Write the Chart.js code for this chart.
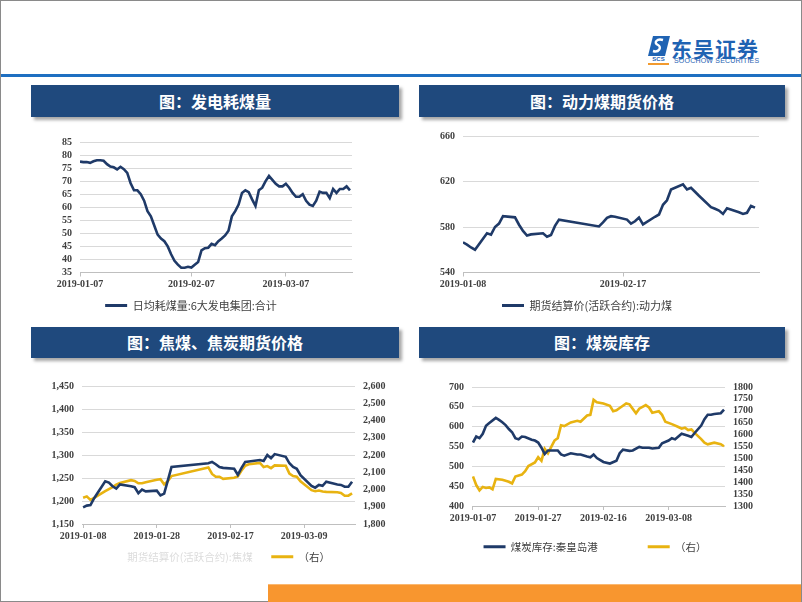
<!DOCTYPE html>
<html>
<head>
<meta charset="utf-8">
<script src="https://cdn.jsdelivr.net/npm/chart.js@4.4.0/dist/chart.umd.min.js"></script>
<style>
  body { margin: 0; background: #fff; width: 802px; height: 602px; position: relative; overflow: hidden; }
  .frame { position: absolute; left: 0; top: 0; width: 800px; height: 600px; border: 1px solid #8a8a8a; }
  .topline { position: absolute; left: 1px; top: 74px; width: 800px; height: 3px; background: #1e6fc1; }
  .bar { position: absolute; height: 32px; background: #1f497d; color: #fff; text-align: center;
         font: bold 16px "Noto Sans CJK SC", sans-serif; line-height: 32px; box-shadow: 3px 3px 3px rgba(0,0,0,0.35); }
  .orange { position: absolute; left: 268px; top: 584px; width: 533px; height: 17px; background: #f8962f; border-top: 1px solid #fbb870; }
  canvas { position: absolute; }
  .logo-cn { position: absolute; left: 671px; top: 33px; font: bold 21px "Noto Sans CJK SC", sans-serif; color: #1f63b3; letter-spacing: 1px; }
  .logo-en { position: absolute; left: 674px; top: 57px; font: 7px "Liberation Sans", sans-serif; color: #1f63b3; letter-spacing: 0.2px; }
  .logo-scs { position: absolute; left: 648px; top: 56px; width: 21px; font: bold 6px "Liberation Sans", sans-serif; color: #1f63b3; text-align: center; border-bottom: 2px solid #f29a2e; line-height: 7px; }
</style>
</head>
<body>
<div class="frame"></div>
<svg style="position:absolute;left:648px;top:36px" width="22" height="20" viewBox="0 0 22 20">
  <path d="M5 0 H22 L17 20 H0 Z" fill="#1f63b3"/>
  <path d="M15 4 C9 2 5 7 10 9 C14 11 11 17 5 15" stroke="#fff" stroke-width="2.4" fill="none"/>
</svg>
<div class="logo-scs">SCS</div>
<div class="logo-cn">东吴证券</div>
<div class="logo-en">SOOCHOW SECURITIES</div>
<div class="topline"></div>

<div class="bar" style="left:31px;top:85px;width:368px;">图：发电耗煤量</div>
<div class="bar" style="left:419px;top:85px;width:366px;">图：动力煤期货价格</div>
<div class="bar" style="left:31px;top:327px;width:368px;height:31px;line-height:31px;">图：焦煤、焦炭期货价格</div>
<div class="bar" style="left:419px;top:327px;width:366px;height:31px;line-height:31px;">图：煤炭库存</div>

<canvas id="c1" width="340" height="193" style="left:30px;top:128px"></canvas>
<canvas id="c2" width="370" height="199" style="left:415px;top:122px"></canvas>
<canvas id="c3" width="370" height="200" style="left:30px;top:372px"></canvas>
<canvas id="c4" width="350" height="189" style="left:420px;top:373px"></canvas>

<div class="orange"></div>

<script>
// chart 1: daily coal burn, 6 big power groups
const burnName = '日均耗煤量:6大发电集团:合计'
const burn = [77.5, 77.3, 77.3, 77.0, 77.6, 78.0, 78.0, 77.8, 76.5, 75.6,
    75.3, 74.5, 75.5, 74.6, 73.2, 69.2, 66.5, 66.5, 65.0, 62.5,
    58.5, 56.5, 53.0, 49.5, 48.0, 47.0, 45.0, 42.0, 39.5, 38.0,
    36.8, 36.8, 37.2, 36.9, 38.0, 39.0, 43.5, 44.3, 44.5, 46.0,
    45.5, 47.0, 48.0, 49.2, 51.0, 56.5, 58.5, 61.0, 65.5, 66.5,
    65.8, 63.0, 60.5, 66.5, 67.5, 70.0, 72.0, 70.5, 69.0, 68.0,
    68.0, 69.0, 67.5, 65.5, 64.0, 64.0, 65.0, 62.5, 61.0, 60.5,
    62.5, 66.0, 65.5, 65.5, 63.5, 67.0, 65.5, 67.0, 67.0, 68.0, 66.5]
const burnTickPos = [0, 33, 61]
const burnTickText = ['2019-01-07', '2019-02-07', '2019-03-07']

// chart 2: thermal coal futures (days since 2019-01-08)
const thermalName = '期货结算价(活跃合约):动力煤'
const thermalDays = [0, 1, 2, 3, 6, 7, 8, 9, 10, 13, 14, 15, 16, 17, 20, 21, 22, 23, 24,
    34, 35, 36, 37, 38, 41, 42, 43, 44, 45, 48, 49, 50, 51, 52, 55, 56, 57, 58, 59,
    62, 63, 64, 65, 66, 69, 70, 71, 72, 73]
const thermal = [566.5, 564.5, 562, 560, 574.5, 573.3, 580, 583, 589.5, 588.5, 582, 576.5, 572.5, 573.5, 574.5, 571.5, 573, 581, 586.5,
    580.5, 584, 588, 589.5, 589, 586.5, 583, 585, 588.3, 582.3, 589, 591, 599.5, 603.5, 613, 617.5, 613, 614.5, 611, 607.5,
    597.5, 596, 594.5, 591.5, 596.5, 593, 591.5, 592.5, 598.5, 597]
const thermalTickPos = [0, 40]
const thermalTickText = ['2019-01-08', '2019-02-17']

// chart 3: coking coal (left) and coke (right) futures (days since 2019-01-08)
const cokingName = '期货结算价(活跃合约):焦煤'
const cokeName = '（右）'
const cokeDays = [0, 1, 2, 3, 6, 7, 8, 9, 10, 13, 14, 15, 16, 17, 20, 21, 22, 23, 24,
    34, 35, 36, 37, 38, 41, 42, 43, 44, 45, 48, 49, 50, 51, 52, 55, 56, 57, 58, 59,
    62, 63, 64, 65, 66, 69, 70, 71, 72, 73]
const coking = [1186, 1190, 1191, 1206, 1243, 1240, 1232, 1227, 1236, 1232, 1230, 1217, 1225, 1221, 1222.5, 1212, 1216, 1245, 1274,
    1282, 1285, 1280, 1274, 1272, 1270, 1257, 1272, 1285, 1286, 1289, 1287, 1300, 1293, 1302, 1296, 1282, 1274, 1270, 1256,
    1233, 1229, 1235, 1233, 1242, 1236, 1235, 1231, 1231, 1242]
const coke = [1952, 1960, 1940, 1952, 1990, 2002, 2014, 2028, 2038, 2054, 2050, 2036, 2036, 2042, 2056, 2060, 2030, 2048, 2078,
    2128, 2090, 2074, 2074, 2062, 2068, 2076, 2110, 2138, 2146, 2154, 2130, 2136, 2124, 2140, 2138, 2092, 2078, 2074, 2048,
    1996, 1990, 1994, 1988, 1986, 1984, 1980, 1964, 1964, 1978]
const cokeTickPos = [0, 20, 40, 60]
const cokeTickText = ['2019-01-08', '2019-01-28', '2019-02-17', '2019-03-09']

// chart 4: Qinhuangdao port stock (left) and right-axis series (days since 2019-01-07)
const stockName = '煤炭库存:秦皇岛港'
const rightName = '（右）'
const stockDays = [0, 1, 2, 3, 4, 5, 7, 8, 9, 10, 11, 12, 13, 14, 15, 16, 18, 19, 20, 21, 22, 23, 26, 27, 28, 30,
    32, 33, 35, 36, 37, 38, 40, 42, 44, 45, 46, 48, 49, 51, 52, 54, 55, 57, 58, 60, 61, 62, 64, 66, 67, 68,
    70, 71, 72, 73, 74, 76, 77]
const stock = [560, 575, 571, 582, 602, 609, 622, 617, 611, 604, 594, 586, 571, 568, 575, 574, 567, 565, 560, 547, 531, 540, 540, 530, 527, 533,
    530, 530, 525, 523, 530, 521, 511, 507, 514, 533, 542, 539, 540, 549, 547, 547, 545, 547, 558, 565, 571, 568, 582, 577, 574, 584,
    603, 619, 630, 630, 632, 634, 643]
const rightDays = [0, 1, 2, 3, 4, 5, 6, 7, 9, 11, 12, 13, 15, 16, 17, 19, 20, 21, 22, 23, 25, 26, 27, 28, 30,
    32, 33, 35, 36, 37, 38, 40, 42, 43, 44, 45, 47, 48, 50, 51, 53, 54, 55, 57, 58, 59, 61, 63, 64, 65, 66, 67, 68,
    70, 71, 72, 74, 76, 77]
const rightVals = [1424, 1388, 1366, 1380, 1376, 1378, 1370, 1414, 1410, 1402, 1395, 1424, 1432, 1446, 1468, 1483, 1505, 1490, 1541, 1522, 1575, 1585, 1639, 1636, 1651,
    1658, 1654, 1680, 1683, 1746, 1736, 1731, 1721, 1698, 1702, 1712, 1731, 1727, 1690, 1709, 1724, 1714, 1692, 1698, 1683, 1654, 1644, 1632, 1625, 1629, 1619, 1622, 1607,
    1581, 1566, 1559, 1566, 1560, 1551]
const stockTickPos = [0, 20, 40, 60]
const stockTickText = ['2019-01-07', '2019-01-27', '2019-02-16', '2019-03-08']

const NAVY = '#1f3a68'
const GOLD = '#e8b311'
const tickFont = { family: '"Liberation Serif"', size: 10, weight: 'bold' }
const tickColor = '#404040'

function legendOpts(size, texts, faint) {
    return {
        position: 'bottom',
        labels: {
            boxWidth: 22,
            boxHeight: 3,
            padding: 8,
            color: '#404040',
            font: { family: '"Noto Sans CJK SC"', size: size },
            generateLabels: chart => chart.data.datasets.map((ds, i) => ({
                text: texts ? texts[i] : ds.label,
                fillStyle: faint && i === 0 ? 'transparent' : ds.borderColor,
                strokeStyle: 'transparent',
                lineWidth: 0,
                fontColor: faint && i === 0 ? '#dcdcdc' : '#404040',
                datasetIndex: i
            }))
        }
    }
}

function xAxis(min, max, pos, text, h) {
    return {
        type: 'linear',
        min: min,
        max: max,
        afterBuildTicks: s => { s.ticks = pos.map(v => ({ value: v })) },
        afterFit: s => { s.height = h },
        ticks: {
            autoSkip: false,
            maxRotation: 0,
            padding: 2,
            font: tickFont,
            color: tickColor,
            callback: (v, i) => text[i]
        },
        grid: { drawOnChartArea: false, tickLength: 4, color: '#bfbfbf' },
        border: { color: '#bfbfbf' }
    }
}

function yAxis(min, max, step, w, side, grid, fmt) {
    return {
        position: side,
        min: min,
        max: max,
        afterFit: s => { s.width = w },
        ticks: {
            stepSize: step,
            autoSkip: false,
            padding: 8,
            font: tickFont,
            color: tickColor,
            callback: v => fmt ? v.toLocaleString('en-US') : v
        },
        grid: { color: '#d9d9d9', drawTicks: false, drawOnChartArea: grid },
        border: { display: false }
    }
}

function line(label, pts, color, axis) {
    return {
        label: label,
        data: pts,
        borderColor: color,
        backgroundColor: color,
        borderWidth: 2.6,
        pointRadius: 0,
        tension: 0,
        yAxisID: axis
    }
}

Chart.defaults.animation = false
Chart.defaults.responsive = false
Chart.defaults.plugins.tooltip.enabled = false

new Chart(document.getElementById('c1'), {
    type: 'line',
    data: { datasets: [line(burnName, burn.map((v, i) => ({ x: i, y: v })), NAVY, 'y')] },
    options: {
        layout: { padding: { top: 10, right: 18, bottom: 0, left: 0 } },
        plugins: { legend: legendOpts(11) },
        scales: {
            x: xAxis(0, 80.6, burnTickPos, burnTickText, 19.5),
            y: yAxis(35, 85, 5, 50, 'left', true, false)
        }
    }
})

new Chart(document.getElementById('c2'), {
    type: 'line',
    data: { datasets: [line(thermalName, thermalDays.map((d, i) => ({ x: d, y: thermal[i] })), NAVY, 'y')] },
    options: {
        layout: { padding: { top: 9, right: 26, bottom: 0, left: 0 } },
        plugins: { legend: legendOpts(11) },
        scales: {
            x: xAxis(0, 74, thermalTickPos, thermalTickText, 19.5),
            y: yAxis(540, 660, 40, 48, 'left', true, false)
        }
    }
})

new Chart(document.getElementById('c3'), {
    type: 'line',
    data: {
        datasets: [
            line(cokingName, cokeDays.map((d, i) => ({ x: d, y: coking[i] })), NAVY, 'y'),
            line(cokeName, cokeDays.map((d, i) => ({ x: d, y: coke[i] })), GOLD, 'y1')
        ]
    },
    options: {
        layout: { padding: { top: 10, right: 0, bottom: 0, left: 0 } },
        plugins: { legend: legendOpts(10.5, [cokingName + '\u3000', cokeName], true) },
        scales: {
            x: xAxis(-0.3, 73.8, cokeTickPos, cokeTickText, 19.5),
            y: yAxis(1150, 1450, 50, 52, 'left', true, true),
            y1: yAxis(1800, 2600, 100, 45, 'right', false, true)
        }
    }
})

new Chart(document.getElementById('c4'), {
    type: 'line',
    data: {
        datasets: [
            line(stockName, stockDays.map((d, i) => ({ x: d, y: stock[i] })), NAVY, 'y'),
            line(rightName, rightDays.map((d, i) => ({ x: d, y: rightVals[i] })), GOLD, 'y1')
        ]
    },
    options: {
        layout: { padding: { top: 10, right: 0, bottom: 0, left: 0 } },
        plugins: { legend: legendOpts(10.5, [stockName + '\u3000\u3000\u3000\u3000', rightName]) },
        scales: {
            x: xAxis(-0.3, 77.3, stockTickPos, stockTickText, 27.5),
            y: yAxis(400, 700, 50, 52, 'left', true, false),
            y1: yAxis(1300, 1800, 50, 45, 'right', false, false)
        }
    }
})
</script>
</body>
</html>
